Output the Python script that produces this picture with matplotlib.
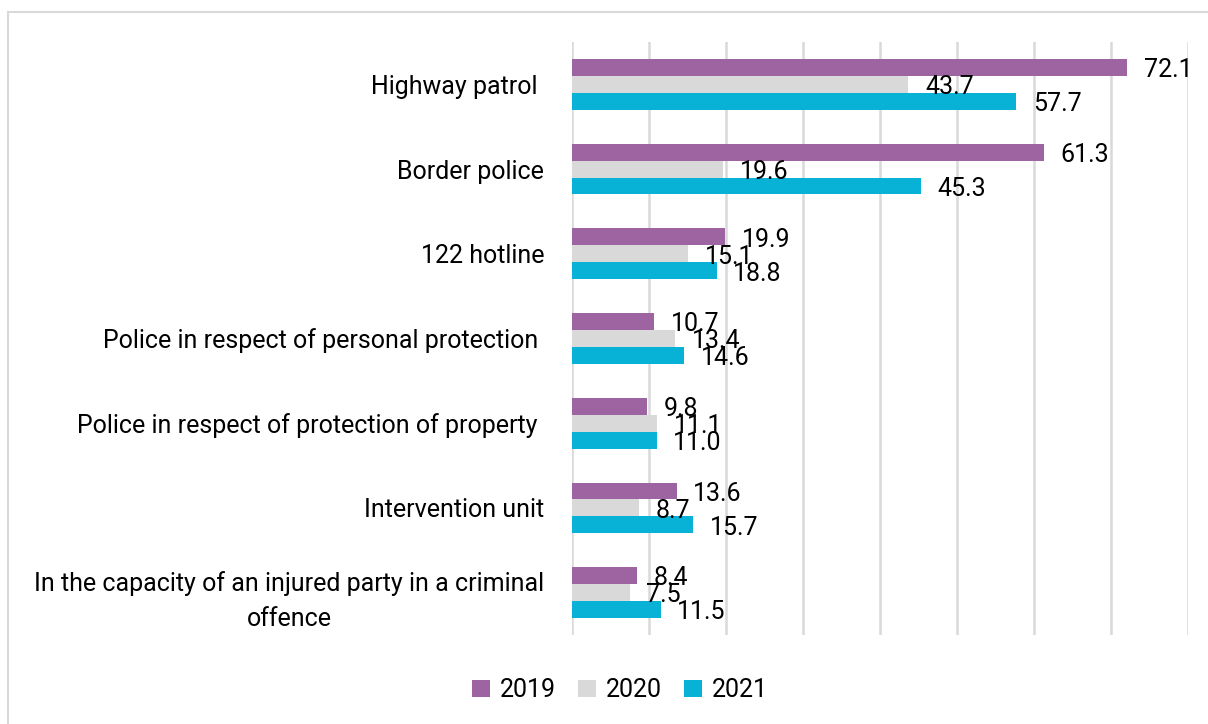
import numpy as np
import matplotlib.pyplot as plt
from matplotlib.patches import Rectangle

categories = ["Highway patrol ", "Border police", "122 hotline",
              "Police in respect of personal protection ",
              "Police in respect of protection of property ",
              "Intervention unit",
              "In the capacity of an injured party in a criminal\noffence"]
years = ["2019", "2020", "2021"]
v2019 = [72.1, 61.3, 19.9, 10.7, 9.8, 13.6, 8.4]
v2020 = [43.7, 19.6, 15.1, 13.4, 11.1, 8.7, 7.5]
v2021 = [57.7, 45.3, 18.8, 14.6, 11.0, 15.7, 11.5]
colors = ["#9E64A2", "#D9D9D9", "#08B1D6"]

plt.rcParams['font.family'] = ['Roboto', 'DejaVu Sans']

fig = plt.figure(figsize=(12.08, 7.24), dpi=100)
fig.patches.append(Rectangle((8 / 1208, -0.1), 1.2, (1 - 12 / 724) + 0.1,
                             transform=fig.transFigure, fill=False,
                             edgecolor="#D9D9D9", linewidth=1.5))
ax = fig.add_axes([572 / 1208, 89 / 724, 616 / 1208, 593 / 724])

y = np.arange(len(categories))
h = 0.2
for i, (vals, lab) in enumerate(zip([v2019, v2020, v2021], years)):
    pos = y + (i - 1) * h
    ax.barh(pos, vals, height=h, color=colors[i], label=lab, zorder=2)
    for p, v in zip(pos, vals):
        ax.annotate(f"{v:.1f}", (v, p), xytext=(12, -2), textcoords="offset points",
                    va="center", ha="left", fontsize=18, color="black", zorder=3)

ax.set_xlim(0, 80)
ax.set_ylim(len(categories) - 0.5, -0.5)
ax.set_xticks(np.arange(0, 81, 10))
ax.set_xticklabels([])
ax.grid(axis="x", color="#D9D9D9", linewidth=1.8, zorder=0)
ax.set_yticks(y)
ax.set_yticklabels(categories, fontsize=18, multialignment="center", linespacing=1.6)
ax.tick_params(axis="both", length=0, pad=20)
for s in ax.spines.values():
    s.set_visible(False)

fig.legend(loc="center", bbox_to_anchor=(620 / 1208, 1 - 690 / 724), ncol=3,
           frameon=False, fontsize=18, handlelength=0.7, handleheight=0.7,
           handletextpad=0.4, columnspacing=0.9)

plt.savefig("out.png", dpi=100)
